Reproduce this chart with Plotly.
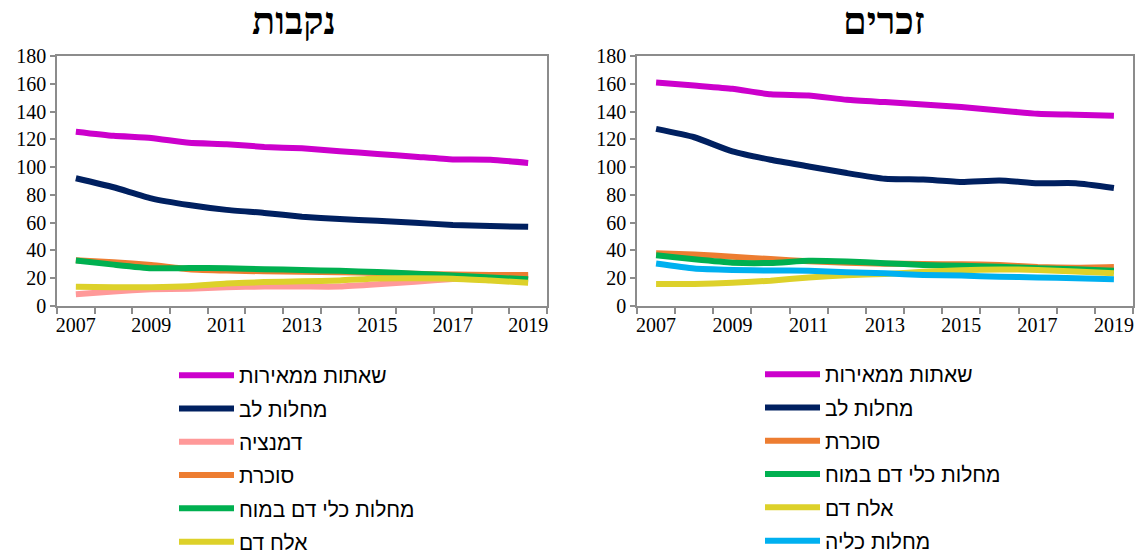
import plotly.graph_objects as go

years = list(range(2007, 2020))

# נקבות
f_cancer = [125.5, 122.5, 121, 117.5, 116.5, 114.5, 113.5, 111.5, 109.5, 107.5, 105.5, 105.3, 103]
f_heart = [92, 85.5, 77.5, 72.7, 69.2, 67, 64.3, 62.6, 61.4, 60, 58.3, 57.6, 57]
f_dementia = [8.5, 10.5, 12, 12.5, 13.5, 14, 14, 14, 15.6, 17.5, 19.5, 21, 22]
f_diabetes = [33, 31.5, 29.5, 26.5, 25.5, 25, 24.7, 24.3, 23.8, 23.2, 22.6, 22.3, 22.3]
f_stroke = [32.8, 29.8, 27.2, 27.3, 27.2, 26.5, 25.9, 25.3, 24.5, 23.2, 22, 20.5, 19.3]
f_sepsis = [13.9, 13.5, 13.5, 14.2, 16.2, 17.2, 17.8, 18.4, 19.8, 19.9, 19.7, 18.3, 16.8]

# זכרים
m_cancer = [161, 158.7, 156.4, 152.4, 151.6, 148.5, 146.8, 145.1, 143.2, 140.8, 138.4, 137.7, 137]
m_heart = [127.5, 121.5, 111.3, 105.3, 100.5, 95.7, 91.6, 91, 89.3, 90.4, 88.4, 88.4, 85]
m_diabetes = [38, 37, 35.5, 33.8, 32.2, 31.2, 30.5, 30.2, 30, 29.5, 28, 27.5, 28]
m_stroke = [36.5, 33.6, 31.2, 31, 32.5, 32, 30.8, 29.6, 28.9, 28.3, 27.1, 26.4, 25.3]
m_sepsis = [15.8, 15.8, 16.8, 18.2, 20.6, 22.2, 23, 24.6, 25.8, 26.3, 26, 24.8, 23.5]
m_kidney = [30.6, 27, 26, 25.5, 25.4, 24.3, 23.5, 22.4, 21.9, 21.1, 20.6, 19.9, 19.2]

colors = {
    'שאתות ממאירות': '#CC00CC',
    'מחלות לב': '#002060',
    'דמנציה': '#FF9999',
    'סוכרת': '#ED7D31',
    'מחלות כלי דם במוח': '#00B050',
    'אלח דם': '#DDD12A',
    'מחלות כליה': '#00B0F0',
}

female = [('שאתות ממאירות', f_cancer), ('מחלות לב', f_heart), ('דמנציה', f_dementia),
          ('סוכרת', f_diabetes), ('מחלות כלי דם במוח', f_stroke), ('אלח דם', f_sepsis)]
male = [('שאתות ממאירות', m_cancer), ('מחלות לב', m_heart), ('סוכרת', m_diabetes),
        ('מחלות כלי דם במוח', m_stroke), ('אלח דם', m_sepsis), ('מחלות כליה', m_kidney)]

fig = go.Figure()
for name, vals in female:
    fig.add_trace(go.Scatter(x=years, y=vals, name=name, mode='lines', xaxis='x', yaxis='y',
                             line=dict(color=colors[name], width=6, shape='spline', smoothing=0.5),
                             legend='legend', legendgroup='f' + name))
for name, vals in male:
    fig.add_trace(go.Scatter(x=years, y=vals, name=name, mode='lines', xaxis='x2', yaxis='y2',
                             line=dict(color=colors[name], width=6, shape='spline', smoothing=0.5),
                             legend='legend2', legendgroup='m' + name))

# the page body keeps an 8px margin, so the figure is drawn 8px smaller and every
# screen position below is given minus that offset
OFF = 8
W, H = 1144 - OFF, 553 - OFF


def px_x(v):
    return (v - OFF) / W


def px_y(v):
    return 1 - (v - OFF) / H


axis_color = '#8C8C8C'
tick_font = dict(family='Liberation Serif', size=20, color='black')
boundaries = [y - 0.5 for y in years] + [years[-1] + 0.5]

xcommon = dict(range=[years[0] - 0.5, years[-1] + 0.5], tickvals=years[::2],
               ticktext=[str(y) for y in years[::2]], ticks='', showgrid=False, zeroline=False,
               showline=True, linecolor=axis_color, linewidth=1.5, mirror=True,
               tickfont=tick_font, automargin=False,
               minor=dict(tickvals=boundaries, ticks='outside', ticklen=6, tickcolor=axis_color,
                          tickwidth=1.5, showgrid=False))
ycommon = dict(range=[0, 180], dtick=20, ticks='outside', ticklen=5, tickcolor=axis_color,
               tickwidth=1.5, showgrid=False, zeroline=False, showline=True, linecolor=axis_color,
               linewidth=1.5, mirror=True, tickfont=tick_font, automargin=False,
               domain=[px_y(306), px_y(56)])

legend_common = dict(font=dict(family='Liberation Sans', size=21, color='black'),
                     bgcolor='rgba(0,0,0,0)', tracegroupgap=3, itemwidth=55,
                     yanchor='top', xanchor='left', traceorder='grouped')

title_font = dict(family='Liberation Serif', size=38, color='black')

fig.update_layout(
    width=W, height=H,
    margin=dict(l=0, r=0, t=0, b=0, autoexpand=False),
    paper_bgcolor='white', plot_bgcolor='white',
    xaxis=dict(domain=[px_x(57), px_x(547)], anchor='y', **xcommon),
    yaxis=dict(anchor='x', **ycommon),
    xaxis2=dict(domain=[px_x(637), px_x(1133)], anchor='y2', **xcommon),
    yaxis2=dict(anchor='x2', **ycommon),
    legend=dict(x=px_x(174), y=px_y(355), **legend_common),
    legend2=dict(x=px_x(760), y=px_y(354), **legend_common),
    annotations=[
        dict(text='<b>נקבות</b>', x=px_x(294), y=px_y(21), xref='paper', yref='paper',
             xanchor='center', yanchor='middle', showarrow=False, font=title_font),
        dict(text='<b>זכרים</b>', x=px_x(884), y=px_y(21), xref='paper', yref='paper',
             xanchor='center', yanchor='middle', showarrow=False, font=title_font),
    ],
)

fig.write_html("out.html")
